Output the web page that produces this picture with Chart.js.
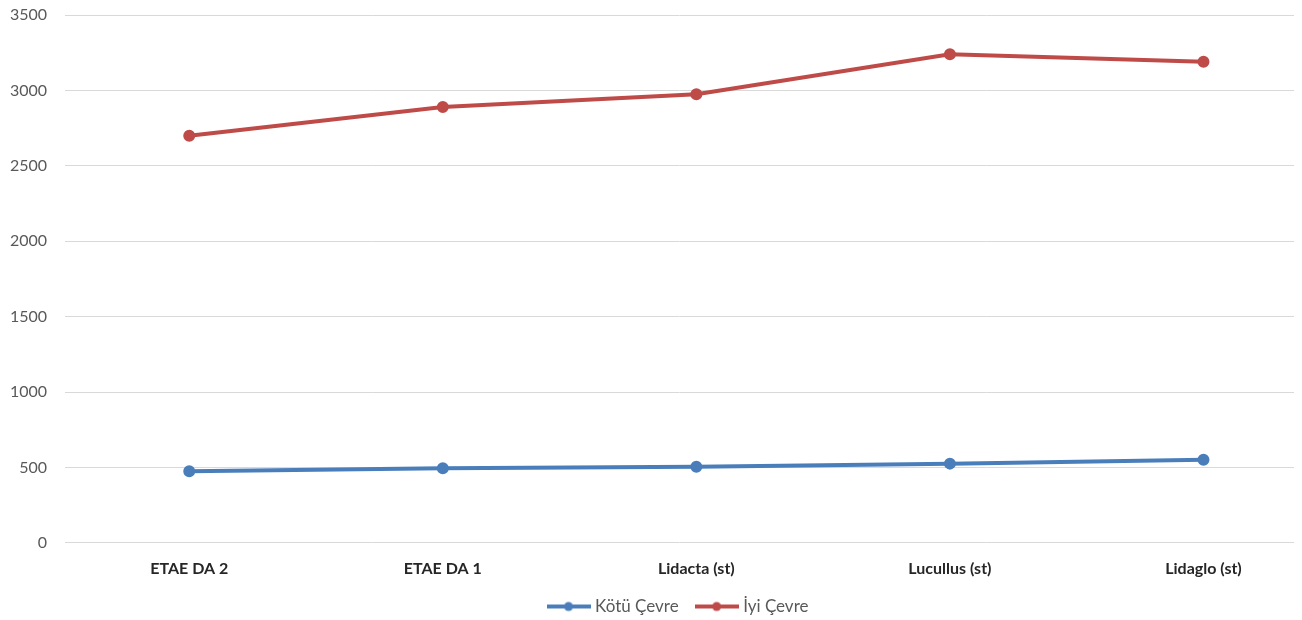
<!DOCTYPE html>
<html>
<head>
<meta charset="utf-8">
<script src="https://cdn.jsdelivr.net/npm/chart.js@4"></script>
<style>
  html, body { margin: 0; padding: 0; background: #fff; }
  #wrap { width: 1302px; height: 620px; }
</style>
</head>
<body>
<div id="wrap"><canvas id="myChart"></canvas></div>
<script>
const categories = ['ETAE DA 2', 'ETAE DA 1', 'Lidacta (st)', 'Lucullus (st)', 'Lidaglo (st)'];
const kotuCevre = [475, 495, 505, 525, 550];
const iyiCevre = [2700, 2890, 2975, 3240, 3190];
const yTicks = [0, 500, 1000, 1500, 2000, 2500, 3000, 3500];

const blue = '#4a7ebb';
const red = '#be4b48';

// legend marker: short line with a dot in the middle, like Excel
function legendMarker(color) {
  const c = document.createElement('canvas');
  c.width = 44; c.height = 12;
  const g = c.getContext('2d');
  g.strokeStyle = color; g.lineWidth = 4;
  g.beginPath(); g.moveTo(0, 6); g.lineTo(44, 6); g.stroke();
  g.fillStyle = color;
  g.beginPath(); g.arc(22, 6, 4.5, 0, Math.PI * 2); g.fill();
  return c;
}

const toPoints = arr => arr.map((v, i) => ({ x: i, y: v }));

new Chart(document.getElementById('myChart'), {
  type: 'line',
  data: {
    datasets: [
      {
        label: 'Kötü Çevre',
        data: toPoints(kotuCevre),
        borderColor: blue,
        backgroundColor: blue,
        borderWidth: 4,
        pointRadius: 4,
        pointHoverRadius: 4,
        tension: 0
      },
      {
        label: 'İyi Çevre',
        data: toPoints(iyiCevre),
        borderColor: red,
        backgroundColor: red,
        borderWidth: 4,
        pointRadius: 4,
        pointHoverRadius: 4,
        tension: 0
      }
    ]
  },
  options: {
    responsive: true,
    maintainAspectRatio: false,
    animation: false,
    layout: { padding: { top: 0, right: 7, left: 0, bottom: -5 } },
    scales: {
      x: {
        type: 'linear',
        min: -0.49,
        max: 4.357,
        afterBuildTicks: s => { s.ticks = categories.map((c, i) => ({ value: i })); },
        afterFit: s => { s.height -= 8; },
        grid: { display: false },
        border: { display: false },
        ticks: {
          padding: 8,
          color: '#262626',
          font: { family: 'Lato', size: 16, weight: 'bold' },
          callback: v => categories[v]
        }
      },
      y: {
        min: 0,
        max: 3500,
        afterBuildTicks: s => { s.ticks = yTicks.map(v => ({ value: v })); },
        afterFit: s => { s.width = 65; s.paddingTop = 15; s.paddingBottom = 9; },
        border: { display: false },
        grid: { color: '#d9d9d9', lineWidth: 1, drawTicks: false },
        ticks: {
          padding: 18,
          color: '#595959',
          font: { family: 'Lato', size: 16 },
          callback: v => String(v)
        }
      }
    },
    plugins: {
      legend: {
        position: 'bottom',
        fullSize: false,
        labels: {
          usePointStyle: true,
          pointStyleWidth: 36,
          boxHeight: 12,
          color: '#595959',
          font: { family: 'Lato', size: 17 },
          padding: 20,
          generateLabels: chart => chart.data.datasets.map((ds, i) => ({
            text: ds.label,
            pointStyle: legendMarker(ds.borderColor),
            fontColor: '#595959',
            datasetIndex: i,
            hidden: !chart.isDatasetVisible(i)
          }))
        }
      },
      tooltip: { enabled: true }
    }
  }
});
</script>
</body>
</html>
